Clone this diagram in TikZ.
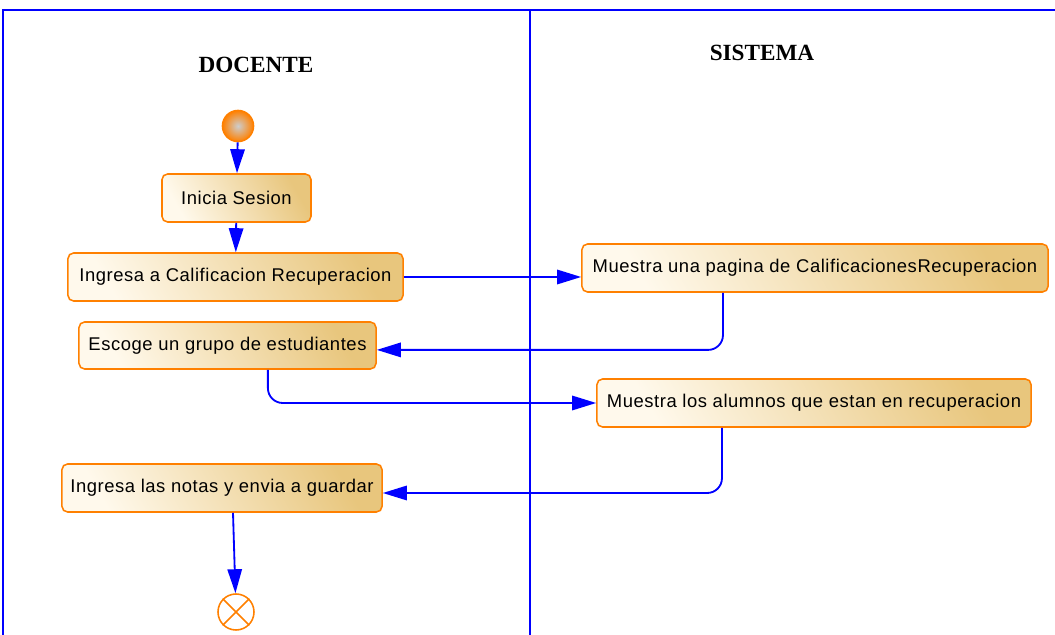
\documentclass[tikz,border=0pt]{standalone}
\usepackage{fontspec}
\setmainfont{Liberation Sans}
\newfontfamily\actfont[LetterSpace=3]{Liberation Sans}
\newfontfamily\lanefont{Liberation Serif}
\usetikzlibrary{arrows.meta,positioning,shapes.geometric}
\definecolor{LaneBlue}{RGB}{0,0,255}
\definecolor{ActOrange}{RGB}{255,128,0}
\definecolor{ActLight}{RGB}{255,249,236}
\definecolor{ActDark}{RGB}{232,198,125}
\definecolor{StartGray}{RGB}{205,205,205}
\tikzset{
  activity/.style={draw=ActOrange,rounded corners=4pt,line width=1.1pt,
    left color=ActLight,right color=ActDark,shading angle=120,
    minimum height=1.2cm,inner xsep=0pt,align=center,
    font=\actfont\fontsize{13.1}{15}\selectfont},
  initial/.style={circle,draw=ActOrange,line width=1pt,shading=radial,
    inner color=StartGray,outer color=ActOrange,minimum size=0.78cm,inner sep=0pt},
  final/.style={circle,draw=ActOrange,fill=white,line width=1.1pt,
    minimum size=0.9cm,inner sep=0pt},
  lane/.style={font=\lanefont\bfseries\fontsize{16.5}{18}\selectfont},
  flow/.style={-{Triangle[length=0.6cm,width=0.36cm]},LaneBlue,line width=1.3pt},
  border/.style={LaneBlue,line width=0.8pt}
}

\begin{document}
\begin{tikzpicture}[x=0.025cm,y=-0.025cm]
      \useasboundingbox (0,0) rectangle (1055,635);
      % lanes
      \draw[border] (3,635) -- (3,10) -- (1055,10);
      \draw[border] (530,10) -- (530,635);
      \node[lane] (docente) at (256,65) {DOCENTE};
      \node[lane] (sistema) at (762,53) {SISTEMA};

      % actividades
      \node[initial] (start) at (238,126) {};
      \node[activity,minimum width=3.725cm] (inicia) at (236.5,198) {Inicia Sesion};
      \node[activity,minimum width=8.375cm] (ingresa) at (235.5,277)
        {Ingresa a Calificacion Recuperacion};
      \node[activity,minimum width=7.425cm,minimum height=1.175cm] (escoge)
        at (227.5,345.5) {Escoge un grupo de estudiantes};
      \node[activity,minimum width=8cm] (notas) at (222,488)
        {Ingresa las notas y envia a guardar};
      \node[activity,minimum width=11.65cm] (pagina) at (815,268)
        {Muestra una pagina de CalificacionesRecuperacion};
      \node[activity,minimum width=10.85cm] (alumnos) at (814,403)
        {Muestra los alumnos que estan en recuperacion};
      \node[final] (stop) at (236,612) {};
      \draw[ActOrange,line width=1.1pt] (stop.north west) -- (stop.south east)
        (stop.north east) -- (stop.south west);

      \draw[flow] (start) -- (inicia);
      \draw[flow] (inicia) -- (ingresa);
      \draw[flow] (ingresa.east) -- (ingresa.east -| pagina.west);
      \draw[flow,rounded corners=0.37cm] ([xshift=-2.3cm]pagina.south)
        |- ([yshift=-0.11cm]escoge.east);
      \draw[flow,rounded corners=0.37cm] ([xshift=1.01cm]escoge.south)
        |- (alumnos.west);
      \draw[flow,rounded corners=0.37cm] ([xshift=-2.3cm]alumnos.south)
        |- ([yshift=-0.125cm]notas.east);
      \draw[flow] ([xshift=0.275cm]notas.south) -- (stop);
    \end{tikzpicture}
\end{document}
